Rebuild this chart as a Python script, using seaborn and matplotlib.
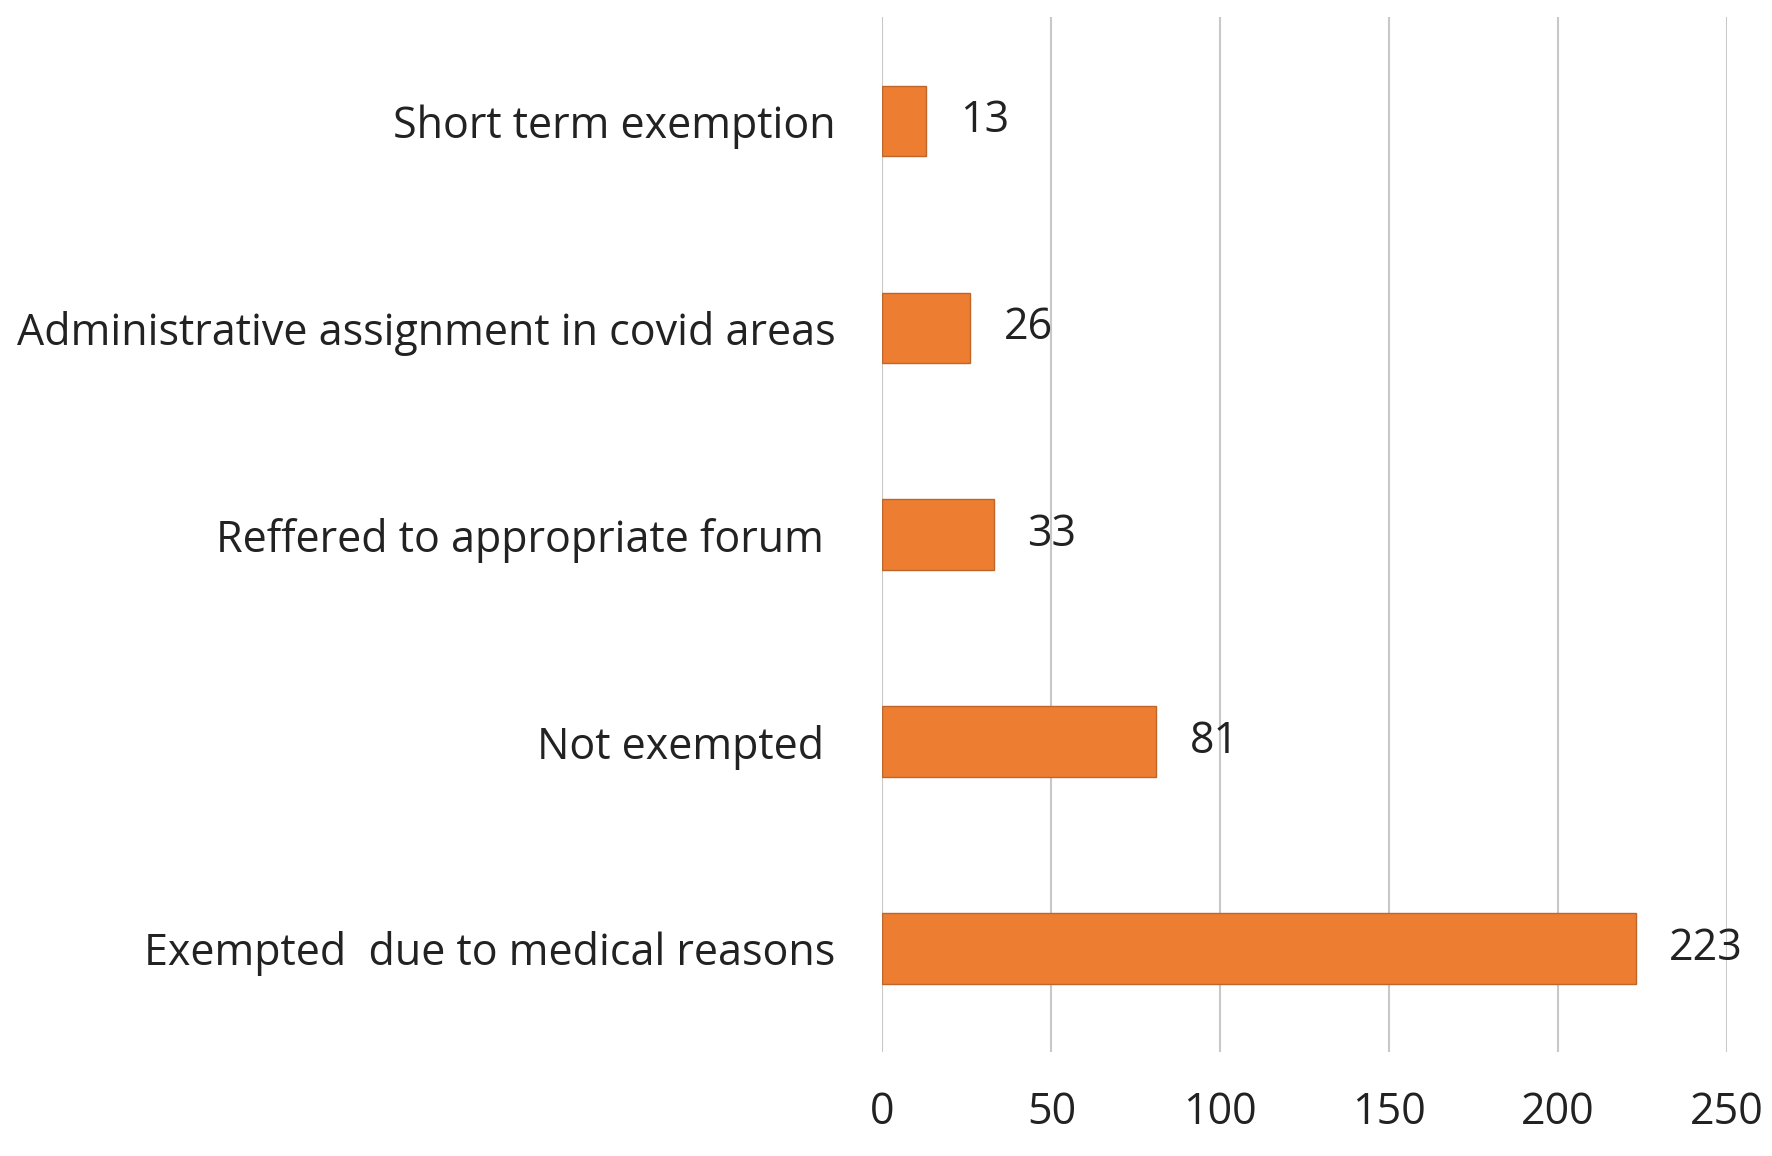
import matplotlib
matplotlib.use("Agg")
import matplotlib.pyplot as plt
import seaborn as sns
import pandas as pd

categories = [
    "Short term exemption",
    "Administrative assignment in covid areas",
    "Reffered to appropriate forum ",
    "Not exempted ",
    "Exempted  due to medical reasons",
]
counts = [13, 26, 33, 81, 223]
x_ticks = [0, 50, 100, 150, 200, 250]

df = pd.DataFrame({"category": categories, "count": counts})

sns.set_theme(style="white")
plt.rcParams["font.family"] = ["Open Sans", "DejaVu Sans"]

fig = plt.figure(figsize=(17.72, 11.56), dpi=100)
ax = fig.add_axes([0.498, 0.090, 0.4766, 0.895])

sns.barplot(data=df, x="count", y="category", color="#ED7D31",
            width=0.34, edgecolor="#C0652A", linewidth=1, saturation=1, ax=ax)

ax.set_xlim(0, 250)
ax.set_xticks(x_ticks)
ax.xaxis.grid(True, color="#C8C8C8", linewidth=1.5)
ax.set_axisbelow(True)
for s in ax.spines.values():
    s.set_visible(False)

ax.set_xlabel("")
ax.set_ylabel("")
ax.tick_params(axis="x", length=0, pad=28, labelsize=31, labelcolor="#222222")
ax.tick_params(axis="y", length=0, pad=34, labelsize=31, labelcolor="#222222")

ax.bar_label(ax.containers[0], padding=24, fontsize=31, color="#222222")

fig.savefig("out.png", dpi=100)
